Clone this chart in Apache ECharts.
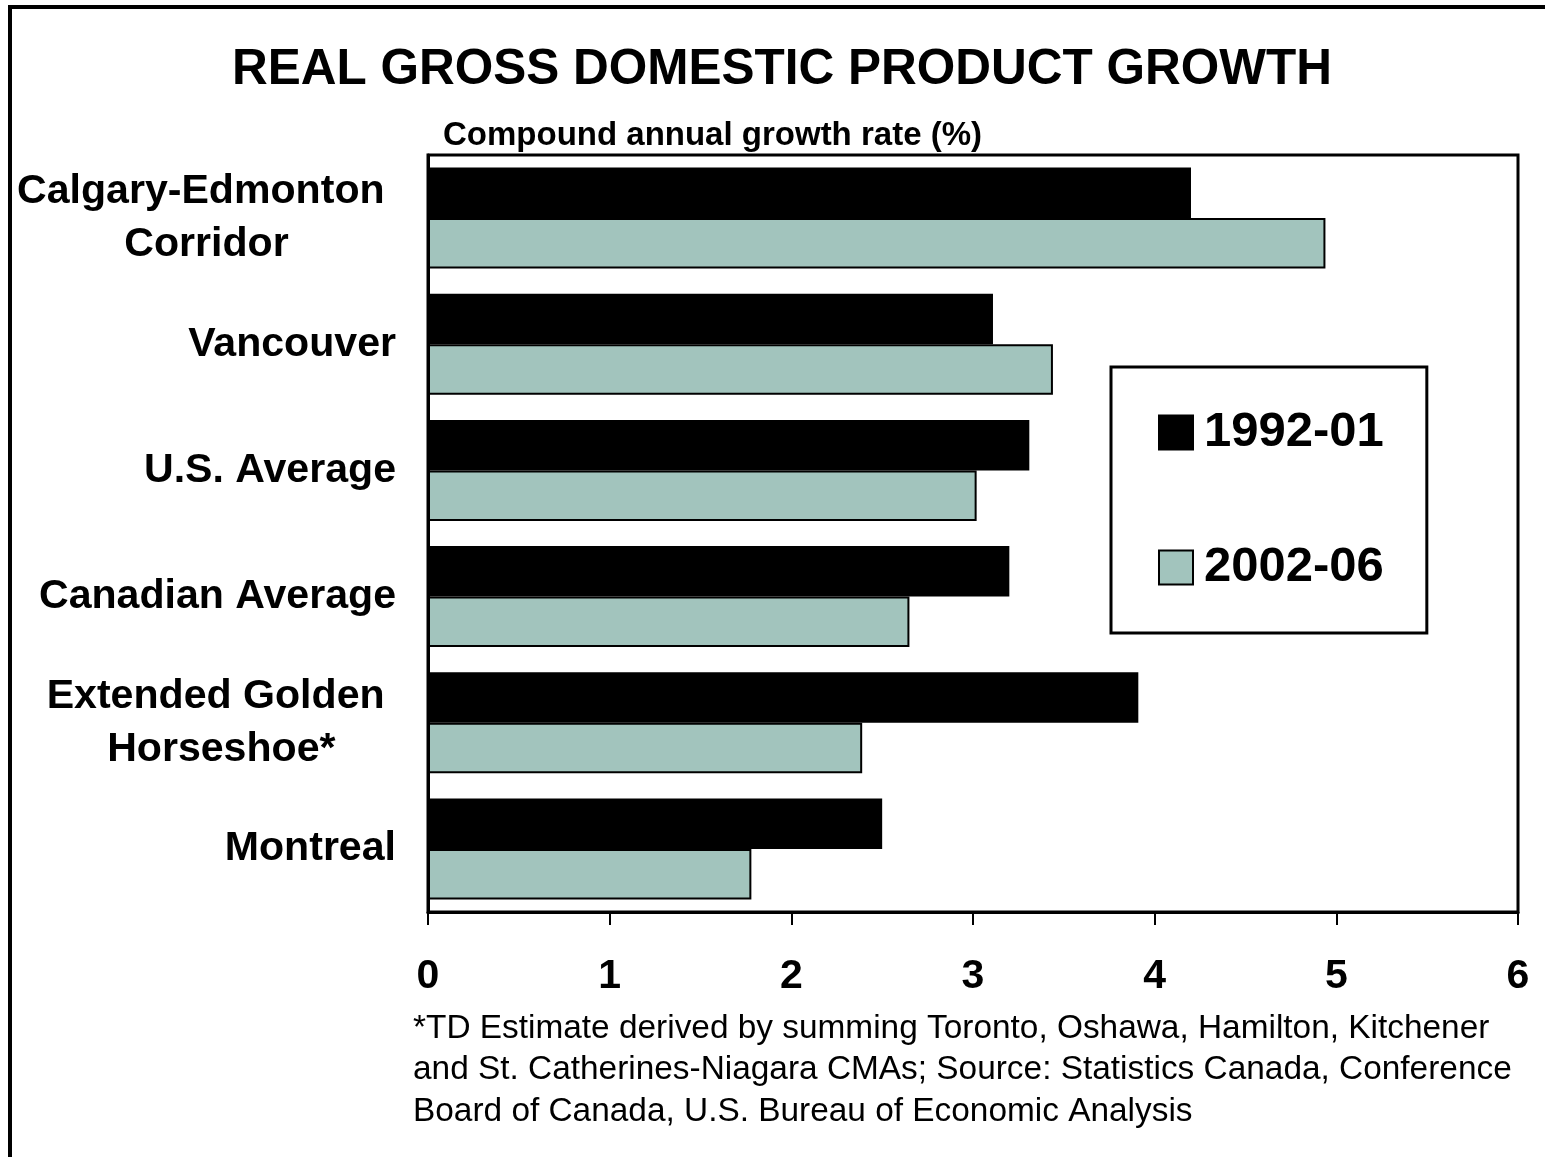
<!DOCTYPE html>
<html>
<head>
<meta charset="utf-8">
<script src="https://cdn.jsdelivr.net/npm/echarts@6/dist/echarts.min.js"></script>
<style>
html,body{margin:0;padding:0;background:#fff;}
#chart{width:1545px;height:1157px;}
</style>
</head>
<body>
<div id="chart"></div>
<script>
const categories = ['Calgary-Edmonton \nCorridor', 'Vancouver', 'U.S. Average', 'Canadian Average', 'Extended Golden \nHorseshoe*', 'Montreal'];
const series1Name = '1992-01';
const series1 = [4.2, 3.11, 3.31, 3.2, 3.91, 2.5];
const series2Name = '2002-06';
const series2 = [4.94, 3.44, 3.02, 2.65, 2.39, 1.78];
const xTicks = [0, 6, 1];
const titleText = 'REAL GROSS DOMESTIC PRODUCT GROWTH';
const subtitleText = 'Compound annual growth rate (%)';
const footnoteText = '*TD Estimate derived by summing Toronto, Oshawa, Hamilton, Kitchener\nand St. Catherines-Niagara CMAs; Source: Statistics Canada, Conference\nBoard of Canada, U.S. Bureau of Economic Analysis';

const FONT = '"Liberation Sans", Arial, sans-serif';
const chart = echarts.init(document.getElementById('chart'), null, {renderer: 'canvas'});

const option = {
  backgroundColor: '#fff',
  animation: false,
  title: [
    {text: titleText, top: 45, left: 782, textAlign: 'center', padding: 0,
     textStyle: {fontFamily: FONT, fontWeight: 'bold', fontSize: 49.5, color: '#000'}},
    {text: subtitleText, left: 443, top: 119, padding: 0,
     textStyle: {fontFamily: FONT, fontWeight: 'bold', fontSize: 33, color: '#000'}},
    {text: footnoteText, left: 413, top: 1008, padding: 0,
     textStyle: {fontFamily: FONT, fontWeight: 'normal', fontSize: 33.4, lineHeight: 41.5, color: '#000'}}
  ],
  legend: {
    orient: 'vertical',
    left: 1111, top: 367,
    backgroundColor: '#fff',
    borderColor: '#000', borderWidth: 3,
    padding: [41, 43, 41, 47],
    itemWidth: 34, itemHeight: 34, itemGap: 86,
    icon: 'rect',
    textStyle: {fontFamily: FONT, fontWeight: 'bold', fontSize: 49, lineHeight: 48, color: '#000', padding: [0,0,0,6]},
    data: [series1Name, series2Name]
  },
  grid: {
    left: 428, right: 27, top: 155, bottom: 245,
    show: true, borderColor: '#000', borderWidth: 3, backgroundColor: 'transparent'
  },
  xAxis: {
    type: 'value', min: xTicks[0], max: xTicks[1], interval: xTicks[2],
    axisLine: {show: true, lineStyle: {color: '#000', width: 3}},
    axisTick: {show: true, length: 13, lineStyle: {color: '#000', width: 2}},
    splitLine: {show: false},
    axisLabel: {margin: 44, fontFamily: FONT, fontWeight: 'bold', fontSize: 41, color: '#000'}
  },
  yAxis: {
    type: 'category', inverse: true, data: categories,
    axisLine: {show: true, lineStyle: {color: '#000', width: 3}},
    axisTick: {show: false},
    axisLabel: {
      margin: 32, color: '#000',
      formatter: function (v) { return v.split('\n').map(function (s) { return '{c|' + s + '}'; }).join('\n'); },
      rich: {c: {fontFamily: FONT, fontWeight: 'bold', fontSize: 41.1, lineHeight: 53, color: '#000', align: 'center'}}
    }
  },
  series: [
    {name: series1Name, type: 'bar', data: series1, barGap: '0%', barCategoryGap: '20%',
     itemStyle: {color: '#000', borderColor: '#000', borderWidth: 2}},
    {name: series2Name, type: 'bar', data: series2, barGap: '0%', barCategoryGap: '20%',
     itemStyle: {color: '#A2C4BD', borderColor: '#000', borderWidth: 2}}
  ],
  graphic: [
    {type: 'line', shape: {x1: 10, y1: 7, x2: 10, y2: 1157}, style: {stroke: '#000', lineWidth: 4}},
    {type: 'line', shape: {x1: 8, y1: 7, x2: 1545, y2: 7}, style: {stroke: '#000', lineWidth: 4}}
  ]
};
chart.setOption(option);
</script>
</body>
</html>
